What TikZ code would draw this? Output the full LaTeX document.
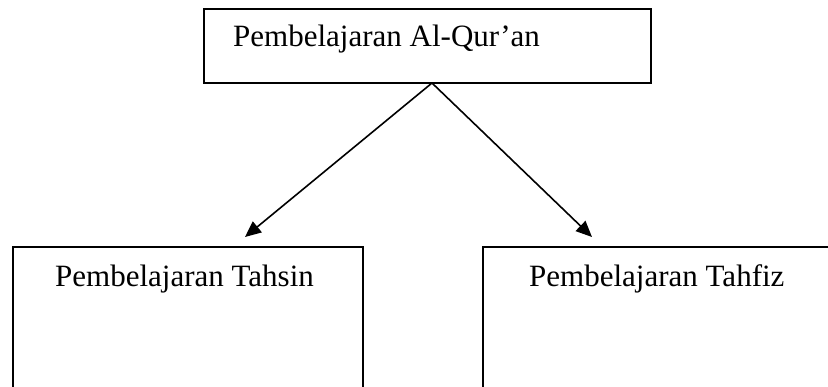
\documentclass[tikz,border=0pt]{standalone}
\usepackage{fontspec}
\setmainfont{Liberation Serif}
\usetikzlibrary{arrows.meta}
\begin{document}
\begin{tikzpicture}[x=1pt,y=-1pt,
  box/.style={draw=black,line width=1.6pt,rectangle,inner sep=0pt,outer sep=0pt,anchor=north west},
  lbl/.style={inner sep=0pt,anchor=base west,font=\fontsize{31}{34}\selectfont},
  arr/.style={line width=1.6pt,-{Triangle[length=16pt,width=14pt]}}]
\useasboundingbox (0,0) rectangle (828,387);
\clip (0,0) rectangle (828,387);
\node[box,minimum width=447pt,minimum height=74pt] (top) at (204,9) {};
\node[box,minimum width=350pt,minimum height=200pt] (left) at (13,247) {};
\node[box,minimum width=400pt,minimum height=200pt] (right) at (483,247) {};
\node[lbl] (ttop) at (233,47) {Pembelajaran Al-Qur’an};
\node[lbl] (tleft) at (55,287) {Pembelajaran Tahsin};
\node[lbl] (tright) at (529,287) {Pembelajaran Tahfiz};
\coordinate (apex) at (432,83);
\coordinate (tipl) at (245,237);
\coordinate (tipr) at (592,237);
\draw[arr] (apex) -- (tipl);
\draw[arr] (apex) -- (tipr);
\end{tikzpicture}
\end{document}
